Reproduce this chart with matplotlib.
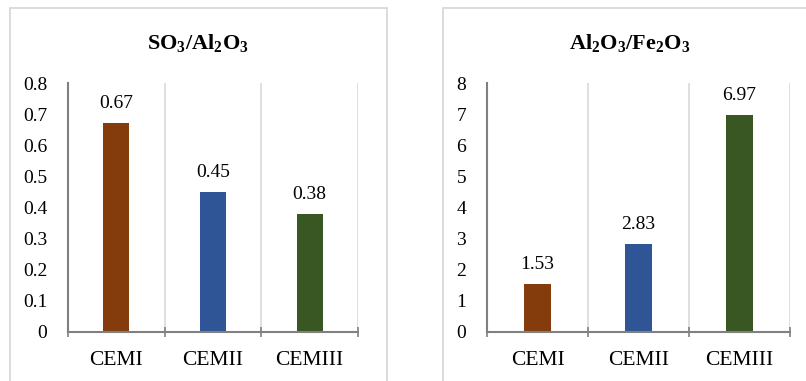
import matplotlib
matplotlib.use('Agg')
import matplotlib.pyplot as plt
from matplotlib.patches import Rectangle

plt.rcParams['font.family'] = 'Liberation Serif'
plt.rcParams['mathtext.fontset'] = 'custom'
plt.rcParams['mathtext.bf'] = 'Liberation Serif:bold'
plt.rcParams['mathtext.rm'] = 'Liberation Serif'

cements = ['CEMI', 'CEMII', 'CEMIII']
so3_al2o3 = [0.67, 0.45, 0.38]
al2o3_fe2o3 = [1.53, 2.83, 6.97]
bar_colors = ['#843C0C', '#2F5597', '#385723']

W, H = 806, 381
fig = plt.figure(figsize=(W / 100, H / 100), dpi=100)

# light frames around each chart
for x0, x1 in [(10, 387), (443, 818)]:
    fig.patches.append(Rectangle((x0 / W, -0.1), (x1 - x0) / W, (381 - 8) / H + 0.1,
                                 transform=fig.transFigure, fill=False,
                                 edgecolor='#D9D9D9', linewidth=1.3))


def draw(left, right, values, ymax, step, fmt, title, title_x):
    ax = fig.add_axes([left / W, 49 / H, (right - left) / W, (298 - 49) / H])
    x = range(len(values))
    ax.bar(x, values, width=0.27, color=bar_colors)
    for xi, v in zip(x, values):
        ax.text(xi, v + ymax * 0.045, fmt.format(v), ha='center', va='bottom', fontsize=14)
    ax.set_xlim(-0.5, len(values) - 0.5)
    ax.set_ylim(0, ymax)
    ticks = [i * step for i in range(int(round(ymax / step)) + 1)]
    ax.set_yticks(ticks)
    ax.set_yticklabels([f'{t:g}' for t in ticks], fontsize=14)
    ax.set_xticks(list(x))
    ax.set_xticklabels(cements, fontsize=15.5)
    ax.tick_params(axis='x', length=0, pad=14)
    ax.tick_params(axis='y', length=0, pad=15)
    # category boundary ticks and grid
    bounds = [i - 0.5 for i in range(len(values) + 1)]
    for b in bounds[1:]:
        ax.axvline(b, color='#D9D9D9', linewidth=1.2, zorder=0)
    ax.plot(bounds, [0] * len(bounds), '|', color='#808080', markersize=7,
            clip_on=False, markeredgewidth=1.2)
    for s in ['top', 'right']:
        ax.spines[s].set_visible(False)
    for s in ['left', 'bottom']:
        ax.spines[s].set_color('#808080')
        ax.spines[s].set_linewidth(1.5)
    fig.text(title_x / W, 1 - 44 / H, title, ha='center', va='center',
             fontsize=16, fontweight='bold')


draw(68, 358, so3_al2o3, 0.8, 0.1, '{:.2f}',
     r'SO$_\mathbf{3}$/Al$_\mathbf{2}$O$_\mathbf{3}$', 198)
draw(487, 790, al2o3_fe2o3, 8, 1, '{:.2f}',
     r'Al$_\mathbf{2}$O$_\mathbf{3}$/Fe$_\mathbf{2}$O$_\mathbf{3}$', 630)

fig.savefig('out.png', dpi=100)
